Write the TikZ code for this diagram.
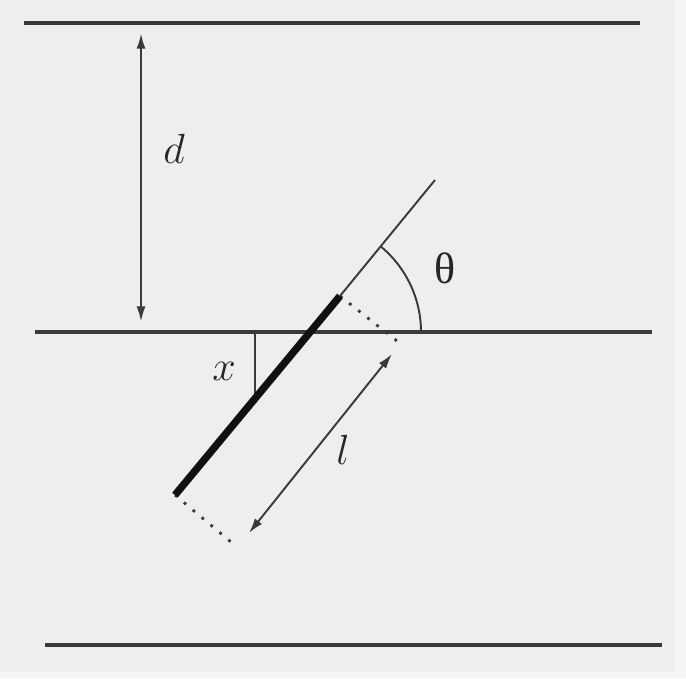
\documentclass[tikz,border=0pt]{standalone}
\usepackage{fontspec}
\newfontfamily\gkfont{Liberation Serif}
\usetikzlibrary{arrows.meta}
\definecolor{bgcol}{HTML}{EEEEEE}
\definecolor{edgecol}{HTML}{F5F5F5}
\definecolor{linecol}{HTML}{3A3A3A}
\definecolor{needlecol}{HTML}{111111}
\tikzset{
  px/.style={x=0.01cm,y=-0.01cm},
  rail/.style={draw=linecol,line width=0.9pt},
  thinline/.style={draw=linecol,line width=0.55pt},
  needle/.style={draw=needlecol,line width=2.1pt},
  dotline/.style={draw=linecol,line width=0.8pt,dash pattern=on 0.8pt off 2.5pt},
  dimarrow/.style={draw=linecol,line width=0.55pt,{Latex[length=1.5mm,width=0.9mm]}-{Latex[length=1.5mm,width=0.9mm]}},
  lbl/.style={inner sep=0pt,font=\fontsize{12.5}{15}\selectfont,text=black!85}
}
\begin{document}
\begin{tikzpicture}[px]
\fill[edgecol] (0,0) rectangle (686,678);
\fill[bgcol] (0,0) rectangle (674,672);
\useasboundingbox (0,0) rectangle (686,678);
% rails
\coordinate (t1) at (24,23);
\coordinate (t2) at (640,23);
\coordinate (m1) at (35,332);
\coordinate (m2) at (652,332);
\coordinate (b1) at (45,645);
\coordinate (b2) at (662,645);
\draw[rail] (t1) -- (t2);
\draw[rail] (m1) -- (m2);
\draw[rail] (b1) -- (b2);
% d dimension
\coordinate (dT) at (141,23);
\coordinate (dB) at (141,332);
\draw[dimarrow,shorten <=3pt,shorten >=3pt] (dT) -- (dB);
\node[lbl] (dlbl) at (174,149) {$d$};
% needle
\coordinate (nA) at (175,495);
\coordinate (nB) at (340,296);
\coordinate (nC) at (435,180);
\coordinate (nX) at (310,332);
\draw[thinline] (nB) -- (nC);
% theta arc
\draw[thinline] (421,332) arc[start angle=0,end angle=-50.4,radius=111];
\node[lbl] (thlbl) at (445,268) {\gkfont θ};
% x marker
\coordinate (xT) at (255,332);
\coordinate (xB) at (255,398);
\draw[thinline] (xT) -- (xB);
\node[lbl] (xlbl) at (224,371) {$x$};
% dotted perpendiculars
\coordinate (pB) at (397,341);
\coordinate (pA) at (231,542);
\draw[dotline] (nB) -- (pB);
\draw[dotline] (nA) -- (pA);
% l dimension
\coordinate (lA) at (249,533);
\coordinate (lB) at (392,354);
\draw[dimarrow] (lA) -- (lB);
\node[lbl] (llbl) at (343,450) {$l$};
\draw[needle] (nA) -- (nB);
\end{tikzpicture}
\end{document}
